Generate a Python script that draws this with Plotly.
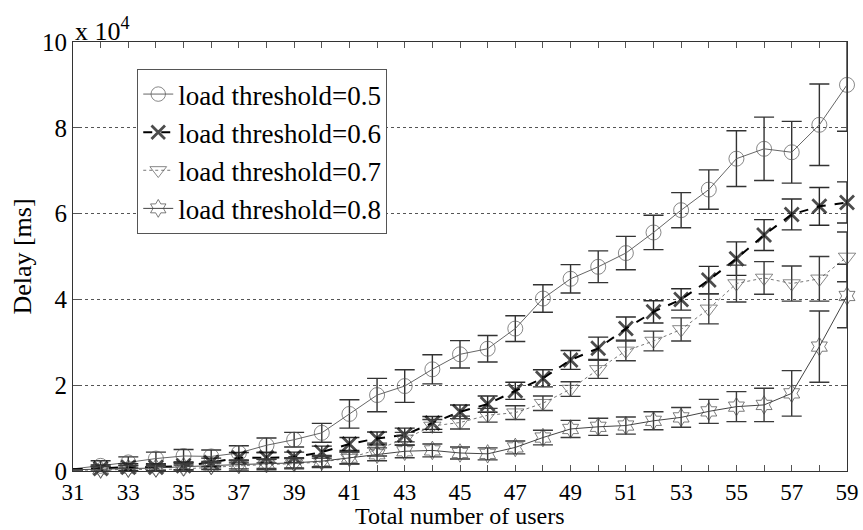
import plotly.graph_objects as go

users = list(range(31, 60))

delay_05 = [500, 1200, 2000, 2900, 3500, 3400, 4200, 6000, 7300, 8900, 13300, 17700, 19800, 23700,
            27200, 28500, 33200, 40200, 44800, 47600, 50800, 55600, 60800, 65600, 72800, 75100,
            74300, 80700, 90000]
err_05 = [None, 1200, 1300, 1500, 1500, 1500, 1700, 1700, 1700, 2200, 3300, 3900, 3800, 3400,
          3200, 3100, 3000, 3200, 3300, 3700, 3900, 4000, 4100, 4600, 6500, 7400, 7200, 9500, 10800]

delay_06 = [400, 600, 900, 900, 1200, 2000, 3100, 3100, 3200, 4400, 6300, 7600, 8400, 11200,
            13800, 15600, 18700, 21600, 25900, 28600, 33200, 37100, 40000, 44500, 49500, 55000,
            59800, 61700, 62600]
err_06 = [None, 800, 800, 800, 900, 1000, 1200, 1200, 1200, 1400, 1500, 1500, 1600, 1500,
          1600, 1900, 2000, 2000, 2200, 2600, 2700, 2600, 2500, 3200, 3900, 3600, 3600, 4400, 4800]

delay_07 = [200, 200, 400, 300, 500, 900, 1200, 1500, 1700, 2100, 3000, 5000, 7500, 10500,
            11300, 13000, 13600, 15800, 19100, 23700, 28000, 30300, 33000, 37800, 43700, 45000,
            43700, 44800, 49900]
err_07 = [None, 800, 800, 800, 900, 1000, 1200, 1200, 1200, 1300, 1400, 1500, 1500, 1500,
          1500, 1600, 1600, 1700, 1700, 2100, 2300, 2300, 2700, 3500, 4300, 3800, 4100, 5200, 5800]

delay_08 = [300, 400, 600, 700, 1000, 1300, 1500, 1700, 1900, 2300, 3100, 3900, 4600, 4800,
            4200, 4000, 5500, 7800, 9800, 10300, 10600, 11700, 12500, 13900, 15000, 15400,
            18100, 29000, 40800]
err_08 = [None, 700, 700, 700, 800, 900, 1000, 1100, 1200, 1300, 1400, 1500, 1500, 1500,
          1400, 1400, 1500, 1700, 2000, 2000, 2000, 2100, 2300, 2800, 3500, 3900, 5300, 8300, 7400]

series_names = ["load threshold=0.5", "load threshold=0.6", "load threshold=0.7", "load threshold=0.8"]

y_tick_vals = [0, 20000, 40000, 60000, 80000, 100000]
y_tick_text = ["0", "2", "4", "6", "8", "10"]

x_title = "Total number of users"
y_title = "Delay [ms]"

FONT = "Liberation Serif"

def sizes(s):
    return [0] + [s] * (len(users) - 1)

fig = go.Figure()

styles = [
    dict(data=delay_05, err=err_05, symbol="circle-open", msize=15, mcolor="#555555", mwidth=1,
         lcolor="#666666", lwidth=1, dash="solid", ecolor="#333333"),
    dict(data=delay_06, err=err_06, symbol="x-thin-open", msize=14, mcolor="#000000", mwidth=2.8,
         lcolor="#000000", lwidth=2, dash="dash", ecolor="#2a2a2a"),
    dict(data=delay_07, err=err_07, symbol="triangle-down-open", msize=15, mcolor="#555555", mwidth=1,
         lcolor="#777777", lwidth=1, dash="dot", ecolor="#3a3a3a"),
    dict(data=delay_08, err=err_08, symbol="hexagram-open", msize=14, mcolor="#444444", mwidth=1,
         lcolor="#444444", lwidth=1, dash="solid", ecolor="#3a3a3a"),
]

for name, st in zip(series_names, styles):
    fig.add_trace(go.Scatter(
        x=users, y=st["data"], name=name, mode="lines+markers",
        line=dict(color=st["lcolor"], width=st["lwidth"], dash=st["dash"]),
        marker=dict(symbol=st["symbol"], size=sizes(st["msize"]), color=st["mcolor"],
                    line=dict(color=st["mcolor"], width=st["mwidth"])),
        error_y=dict(type="data", array=st["err"], visible=True, color=st["ecolor"],
                     thickness=1.4, width=10),
        cliponaxis=False,
    ))

fig.update_layout(
    width=863, height=530,
    margin=dict(l=73, r=16, t=42, b=59, autoexpand=False),
    paper_bgcolor="white", plot_bgcolor="white",
    font=dict(family=FONT, size=24, color="black"),
    showlegend=True,
    legend=dict(x=0.083, y=0.937, xanchor="left", yanchor="top",
                bordercolor="#555555", borderwidth=1, bgcolor="white",
                font=dict(family=FONT, size=27, color="black"),
                tracegroupgap=0, itemwidth=30),
    xaxis=dict(range=[31, 59], tickmode="linear", tick0=31, dtick=2, automargin=False,
               ticks="inside", ticklen=6, tickcolor="#555555", mirror="allticks",
               minor=dict(dtick=1, tick0=31, ticks="inside", ticklen=6, tickcolor="#555555", showgrid=False),
               showline=True, linecolor="#333333", linewidth=1, showgrid=False, zeroline=False,
               tickfont=dict(family=FONT, size=23), ticklabelstandoff=0),
    yaxis=dict(range=[0, 100000], tickmode="array", tickvals=y_tick_vals, ticktext=y_tick_text,
               automargin=False,
               ticks="inside", ticklen=6, tickcolor="#555555", mirror="allticks",
               showline=True, linecolor="#333333", linewidth=1, showgrid=True,
               gridcolor="#555555", griddash="dot", gridwidth=1, zeroline=False,
               tickfont=dict(family=FONT, size=25),
               title=dict(text=y_title, font=dict(family=FONT, size=26), standoff=2)),
    annotations=[
        dict(text="x 10<sup>4</sup>", xref="paper", yref="paper", x=0.0, y=1.0,
             xanchor="left", yanchor="bottom", showarrow=False,
             font=dict(family=FONT, size=26, color="black"), yshift=-6),
        dict(text=x_title, xref="paper", yref="paper", x=0.5, y=-0.106,
             xanchor="center", yanchor="middle", showarrow=False,
             font=dict(family=FONT, size=24, color="black")),
    ],
)

fig.write_html("out.html")
